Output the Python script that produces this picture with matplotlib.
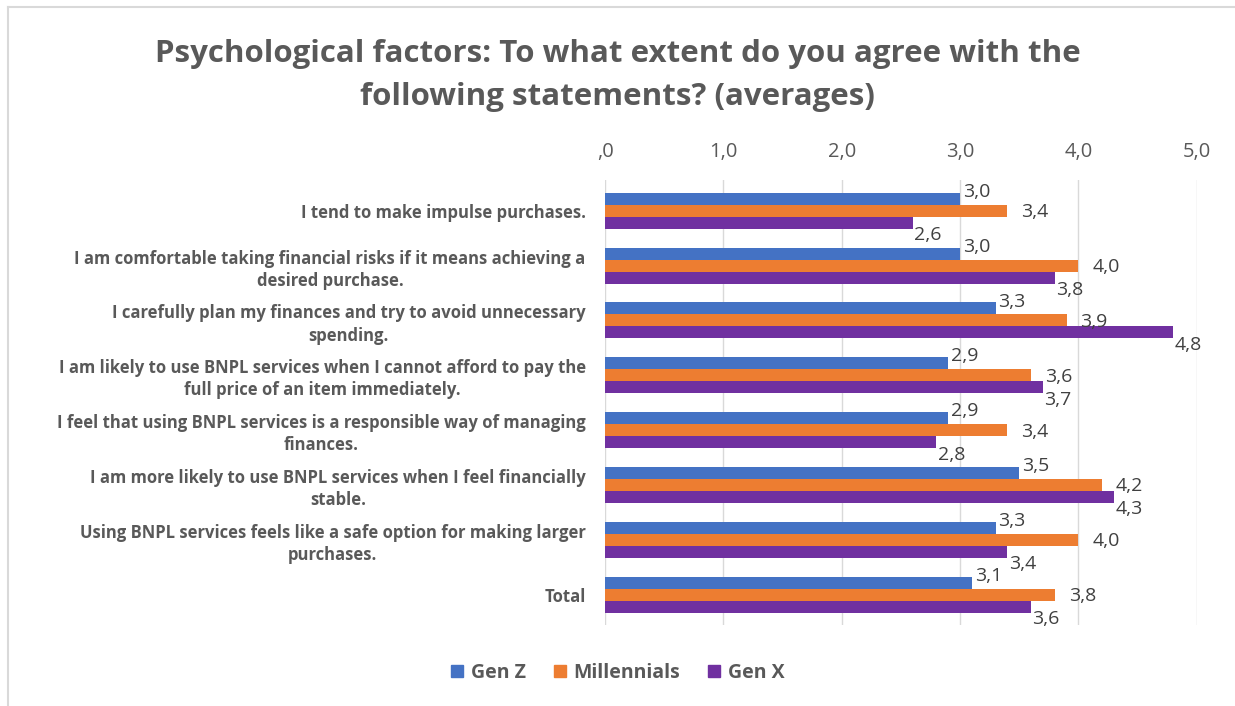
import numpy as np
import matplotlib.pyplot as plt
from matplotlib.lines import Line2D
from matplotlib.ticker import FuncFormatter

plt.rcParams['font.family'] = ['Open Sans', 'DejaVu Sans']

statements = [
    'I tend to make impulse purchases.',
    'I am comfortable taking financial risks if it means achieving a\ndesired purchase.',
    'I carefully plan my finances and try to avoid unnecessary\nspending.',
    'I am likely to use BNPL services when I cannot afford to pay the\nfull price of an item immediately.',
    'I feel that using BNPL services is a responsible way of managing\nfinances.',
    'I am more likely to use BNPL services when I feel financially\nstable.',
    'Using BNPL services feels like a safe option for making larger\npurchases.',
    'Total',
]
gen_z = [3.0, 3.0, 3.3, 2.9, 2.9, 3.5, 3.3, 3.1]
millennials = [3.4, 4.0, 3.9, 3.6, 3.4, 4.2, 4.0, 3.8]
gen_x = [2.6, 3.8, 4.8, 3.7, 2.8, 4.3, 3.4, 3.6]
series_names = ['Gen Z', 'Millennials', 'Gen X']
colors = ['#4472C4', '#ED7D31', '#7030A0']

text_gray = '#595959'
label_gray = '#404040'

fig = plt.figure(figsize=(12.35, 7.06), dpi=100)
ax = fig.add_axes([0.49, 0.115, 0.479, 0.63])

y = np.arange(len(statements))
h = 0.218
# label offsets in points per series (Excel-style outside-end labels)
offsets = [(2, 5), (10, -1), (1, -9)]
for i, (vals, name, col) in enumerate(zip([gen_z, millennials, gen_x], series_names, colors)):
    pos = y + (i - 1) * h
    ax.barh(pos, vals, height=h, color=col, label=name, zorder=2)
    for p, v in zip(pos, vals):
        ax.annotate(f'{v:.1f}'.replace('.', ','), (v, p), xytext=offsets[i],
                    textcoords='offset points', ha='left', va='center',
                    fontsize=14, color=label_gray)

ax.set_xlim(0, 5)
ax.set_ylim(len(statements) - 1 + 0.55, -0.56)
ax.set_xticks(np.arange(0, 6, 1))
ax.xaxis.set_major_formatter(FuncFormatter(
    lambda v, _: ',0' if v == 0 else f'{v:.1f}'.replace('.', ',')))
ax.xaxis.tick_top()
ax.tick_params(axis='x', length=0, pad=13, labelsize=14.5, labelcolor=text_gray)
ax.set_yticks(y)
ax.set_yticklabels(statements, fontsize=12, fontweight='bold', color=text_gray,
                   multialignment='center', linespacing=1.3)
ax.tick_params(axis='y', length=0, pad=14)
ax.grid(axis='x', color='#D9D9D9', linewidth=1, zorder=0)
for s in ax.spines.values():
    s.set_visible(False)

fig.text(0.5, 0.893, 'Psychological factors: To what extent do you agree with the\nfollowing statements? (averages)',
         ha='center', va='center', fontsize=22.5, fontweight='bold', color=text_gray,
         linespacing=1.55)

handles = [Line2D([], [], marker='s', linestyle='', markersize=9, color=c) for c in colors]
fig.legend(handles, series_names, loc='center', bbox_to_anchor=(0.5, 0.047), ncol=3,
           frameon=False, handlelength=0.7, handletextpad=0.35, columnspacing=1.4,
           prop={'size': 14, 'weight': 'bold'}, labelcolor=text_gray)

# thin frame on the left and top edges
fig.add_artist(Line2D([0.0065, 0.0065], [0, 0.99], transform=fig.transFigure,
                      color='#D9D9D9', linewidth=1.5))
fig.add_artist(Line2D([0.0065, 1], [0.99, 0.99], transform=fig.transFigure,
                      color='#D9D9D9', linewidth=1.5))

fig.savefig('out.png', dpi=100, facecolor='white')
